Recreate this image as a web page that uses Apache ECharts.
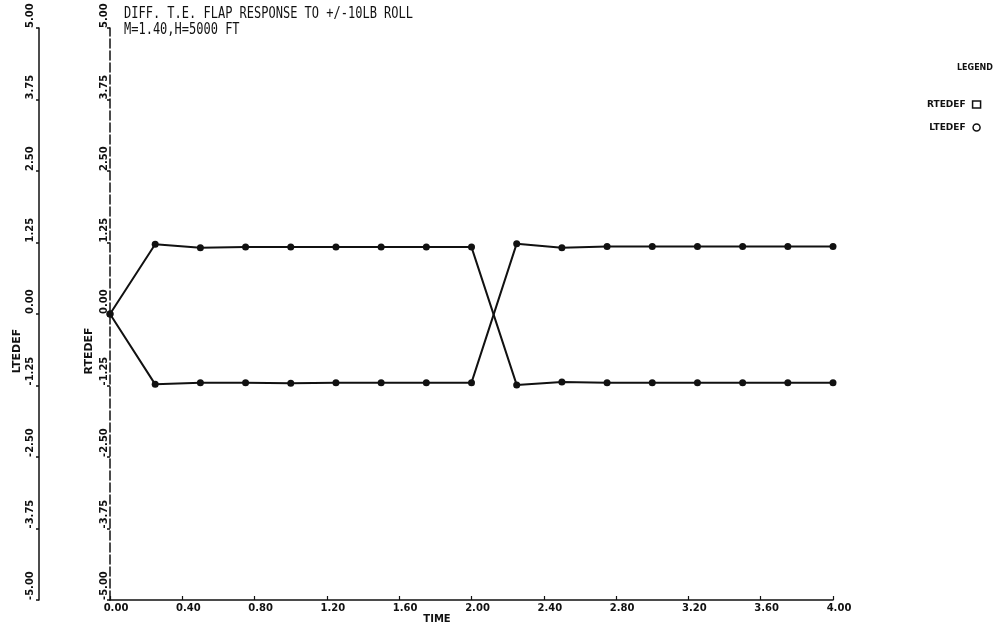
<!DOCTYPE html>
<html><head><meta charset="utf-8">
<script src="https://cdn.jsdelivr.net/npm/echarts@6/dist/echarts.min.js"></script>
<style>html,body{margin:0;padding:0;background:#fff}#c{width:1004px;height:633px}</style>
</head><body><div id="c"></div>
<script>
const titleLines = ['DIFF. T.E. FLAP RESPONSE TO +/-10LB ROLL', 'M=1.40,H=5000 FT'];
const time = [0.00, 0.25, 0.50, 0.75, 1.00, 1.25, 1.50, 1.75, 2.00, 2.25, 2.50, 2.75, 3.00, 3.25, 3.50, 3.75, 4.00];
const rtedef = [0.00, 1.22, 1.16, 1.17, 1.17, 1.17, 1.17, 1.17, 1.17, -1.24, -1.19, -1.20, -1.20, -1.20, -1.20, -1.20, -1.20];
const ltedef = [0.00, -1.23, -1.20, -1.20, -1.21, -1.20, -1.20, -1.20, -1.20, 1.23, 1.16, 1.18, 1.18, 1.18, 1.18, 1.18, 1.18];
const xRange = [0, 4], xStep = 0.4;
const yRange = [-5, 5], yStep = 1.25;
const seriesNames = ['RTEDEF', 'LTEDEF'];
const xName = 'TIME';
const legendTitle = 'LEGEND';

const chart = echarts.init(document.getElementById('c'), null, {renderer: 'canvas'});
const tickFont = {fontFamily: 'DejaVu Sans', fontWeight: 'bold', fontSize: 10, color: '#111'};
const pairs = arr => time.map((t, i) => [t, arr[i]]);
function yAxisDef(offset, dashed, margin) {
  return {
    type: 'value', position: 'left', offset: offset,
    min: yRange[0], max: yRange[1], interval: yStep,
    axisLine: {show: true, onZero: false, lineStyle: {color: '#111', width: 1.5, type: dashed ? [9, 3] : 'solid'}},
    axisTick: {show: true, length: 3, lineStyle: {color: '#111', width: 1.5}},
    splitLine: {show: false},
    axisLabel: Object.assign({rotate: 90, align: 'left', verticalAlign: 'middle', margin: margin,
      formatter: v => v.toFixed(2)}, tickFont)
  };
}
const option = {
  animation: false,
  backgroundColor: '#fff',
  grid: {left: 110, right: 171, top: 28, bottom: 33, containLabel: false},
  xAxis: {
    type: 'value', min: xRange[0], max: xRange[1], interval: xStep,
    axisLine: {show: true, onZero: false, lineStyle: {color: '#111', width: 1.5}},
    axisTick: {show: true, inside: true, length: 4, lineStyle: {color: '#111', width: 1.2}},
    splitLine: {show: false},
    axisLabel: Object.assign({margin: 3, padding: [0, 0, 0, 12], formatter: v => v.toFixed(2)}, tickFont)
  },
  yAxis: [yAxisDef(0, true, 6), yAxisDef(71, false, 9)],
  legend: {
    show: true, orient: 'vertical', left: 922, top: 95, align: 'right',
    itemWidth: 8, itemHeight: 7, itemGap: 14,
    data: [
      {name: seriesNames[0], icon: 'rect', itemStyle: {color: '#fff', borderColor: '#111', borderWidth: 1.5}},
      {name: seriesNames[1], icon: 'circle', itemStyle: {color: '#fff', borderColor: '#111', borderWidth: 1.5}}
    ],
    textStyle: {fontFamily: 'DejaVu Sans', fontWeight: 'bold', fontSize: 9, color: '#111', padding: [0, 2, 0, 0]}
  },
  graphic: [
    {type: 'text', left: 124, top: 6, style: {text: titleLines[0], font: '16px "DejaVu Sans Mono"', fill: '#111'}, scaleX: 0.75},
    {type: 'text', left: 124, top: 22, style: {text: titleLines[1], font: '16px "DejaVu Sans Mono"', fill: '#111'}, scaleX: 0.75},
    {type: 'text', x: 957, y: 64, style: {text: legendTitle, font: 'bold 8px "DejaVu Sans"', fill: '#111'}},
    {type: 'text', x: 437, y: 619, style: {text: xName, font: 'bold 10px "DejaVu Sans"', fill: '#111', align: 'center', verticalAlign: 'middle'}},
    {type: 'text', x: 89, y: 351, rotation: Math.PI / 2, style: {text: seriesNames[0], font: 'bold 11px "DejaVu Sans"', fill: '#111', align: 'center', verticalAlign: 'middle'}},
    {type: 'text', x: 17, y: 351, rotation: Math.PI / 2, style: {text: seriesNames[1], font: 'bold 11px "DejaVu Sans"', fill: '#111', align: 'center', verticalAlign: 'middle'}}
  ],
  series: [
    {name: seriesNames[0], type: 'line', yAxisIndex: 0, data: pairs(rtedef),
      symbol: 'circle', symbolSize: 7, showSymbol: true,
      lineStyle: {color: '#111', width: 2}, itemStyle: {color: '#111'}},
    {name: seriesNames[1], type: 'line', yAxisIndex: 1, data: pairs(ltedef),
      symbol: 'circle', symbolSize: 7, showSymbol: true,
      lineStyle: {color: '#111', width: 2}, itemStyle: {color: '#111'}}
  ]
};
chart.setOption(option);
</script>
</body></html>
